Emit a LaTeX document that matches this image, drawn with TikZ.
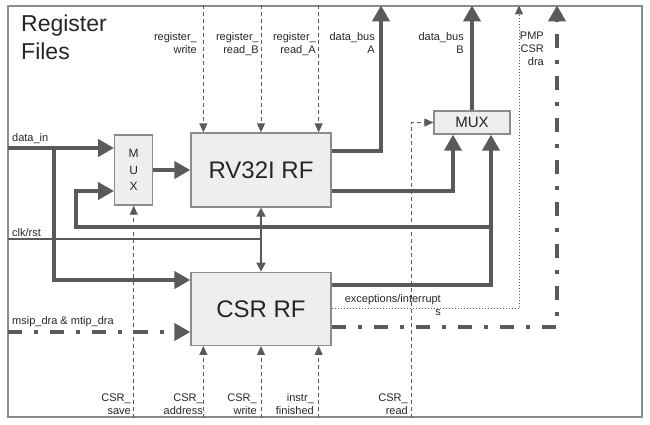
\documentclass[tikz,border=0pt]{standalone}
\usepackage{fontspec}
\setmainfont{Liberation Sans}
\usetikzlibrary{positioning, arrows.meta}

\definecolor{wire}{HTML}{5A5A5A}
\definecolor{boxfill}{HTML}{EEEEEE}
\definecolor{boxline}{HTML}{8C8C8C}

\begin{document}
\begin{tikzpicture}[
        x=1pt, y=-1pt,
        % testo di default piccolo, senza margini
        every node/.style={font=\fontsize{11}{13}\selectfont, text=black!85, inner sep=0pt},
        % blocchi grigio chiaro
        box/.style={draw=boxline, fill=boxfill, line width=1.3pt, align=center},
        % bus dati spessi
        bus/.style={draw=wire, line width=4pt, -{Triangle[length=16pt, width=17pt]}},
        % segnali di controllo tratteggiati
        ctl/.style={draw=wire, line width=1pt, dash pattern=on 4pt off 3pt, -{Triangle[length=9pt, width=8pt]}},
        clkline/.style={draw=wire, line width=2pt},
        dotline/.style={draw=wire, line width=1pt, dash pattern=on 1pt off 2pt, -{Triangle[length=9pt, width=8pt]}},
        dashdot/.style={draw=wire, line width=4pt, dash pattern=on 14pt off 12pt on 4pt off 12pt, -{Triangle[length=16pt, width=17pt]}},
        lbl/.style={align=right}
    ]
    \useasboundingbox (0,0) rectangle (650,425);

    % --- cornice esterna ---
    \node[draw=boxline, line width=1.2pt, minimum width=634pt, minimum height=411pt] (frame) at (325,211.5) {};
    \node[anchor=north west, align=left, font=\fontsize{23}{28}\selectfont] (title) at (21,15) {Register\\Files};

    % --- blocchi ---
    \node[box, minimum width=140pt, minimum height=74pt, font=\fontsize{24}{28}\selectfont] (rv32i) at (261,170) {RV32I RF};
    \node[box, below=64pt of rv32i, minimum width=140pt, minimum height=73pt, font=\fontsize{24}{28}\selectfont] (csr) {CSR RF};
    \node[box, left=37pt of rv32i, minimum width=38pt, minimum height=70pt, font=\fontsize{12}{16.5}\selectfont] (muxa) {M\\U\\X};
    \node[box, minimum width=76pt, minimum height=23pt, font=\fontsize{15}{18}\selectfont] (muxb) at (472,122.5) {MUX};

    % --- punti di appoggio ---
    \coordinate (din) at (8,148);
    \coordinate (dsplit) at (54,148);
    \coordinate (clk) at (8,239);
    \coordinate (msip) at (8,332);
    \coordinate (fbk) at (491,227);
    \coordinate (fbturn) at (76,191);
    \coordinate (busa) at (381,0);
    \coordinate (exc) at (519,0);
    \coordinate (pmp) at (557,0);
    \coordinate (mbl) at ([xshift=-19pt]muxb.south);
    \coordinate (mbr) at ([xshift=19pt]muxb.south);
    \coordinate (rw) at ([xshift=13pt]rv32i.north west);
    \coordinate (ra) at ([xshift=-13pt]rv32i.north east);
    \coordinate (ca) at ([xshift=13pt]csr.south west);
    \coordinate (cf) at ([xshift=-13pt]csr.south east);
    \coordinate (cread) at (411,0);

    % --- bus dati ---
    \draw[bus] (din) -- (din -| muxa.west);
    \draw[bus] (dsplit) |- (csr.west |- 0,280);
    \draw[bus] (muxa) -- (rv32i);
    \draw[bus] (rv32i.east |- 0,151) -| (busa |- frame.north);
    \draw[bus] (rv32i.east |- 0,191) -| (mbl);
    \draw[bus] (csr.east |- 0,285) -| (mbr);
    \draw[bus] (fbk) -| (fbturn) -- (fbturn -| muxa.west);
    \draw[bus] (muxb.north) -- (muxb.north |- frame.north);

    % --- clock / reset ---
    \draw[clkline] (clk) -- (clk -| rv32i.south);
    \draw[clkline, {Triangle[length=9pt, width=9pt]}-{Triangle[length=9pt, width=9pt]}] (rv32i.south) -- (csr.north);

    % --- interrupt e uscite CSR ---
    \draw[dashdot] (msip) -- (msip -| csr.west);
    \draw[dotline] (csr.east) -| (exc |- frame.north);
    \draw[dashdot] (csr.east |- 0,327) -| (pmp |- frame.north);

    % --- segnali di controllo ---
    \draw[ctl] (rw |- frame.north) -- (rw);
    \draw[ctl] (rv32i.north |- frame.north) -- (rv32i.north);
    \draw[ctl] (ra |- frame.north) -- (ra);
    \draw[ctl] (muxa.south |- frame.south) -- (muxa.south);
    \draw[ctl] (ca |- frame.south) -- (ca);
    \draw[ctl] (csr.south |- frame.south) -- (csr.south);
    \draw[ctl] (cf |- frame.south) -- (cf);
    \draw[ctl] (cread |- frame.south) |- (muxb.west);

    % === ETICHETTE ===
    \node[lbl, anchor=north east] (l_rw) at (197,32) {register\_\\write};
    \node[lbl, anchor=north east] (l_rb) at (259,32) {register\_\\read\_B};
    \node[lbl, anchor=north east] (l_ra) at (316,32) {register\_\\read\_A};
    \node[lbl, anchor=north east] (l_da) at (375,32) {data\_bus\\A};
    \node[lbl, anchor=north east] (l_db) at (464,32) {data\_bus\\B};
    \node[lbl, anchor=north east] (l_pmp) at (544,32) {PMP\\CSR\\dra};
    \node[anchor=base west] (l_din) at (12,141) {data\_in};
    \node[anchor=base west] (l_clk) at (12,236) {clk/rst};
    \node[anchor=base west] (l_msip) at (12,324) {msip\_dra \& mtip\_dra};
    \node[lbl, anchor=north east] (l_exc) at (441,294) {exceptions/interrupt\\s};
    \node[lbl, anchor=south east] (l_cs) at (131,415) {CSR\_\\save};
    \node[lbl, anchor=south east] (l_cad) at (203,415) {CSR\_\\address};
    \node[lbl, anchor=south east] (l_cw) at (257,415) {CSR\_\\write};
    \node[lbl, anchor=south east] (l_if) at (314,415) {instr\_\\finished};
    \node[lbl, anchor=south east] (l_cr) at (408,415) {CSR\_\\read};

\end{tikzpicture}
\end{document}
